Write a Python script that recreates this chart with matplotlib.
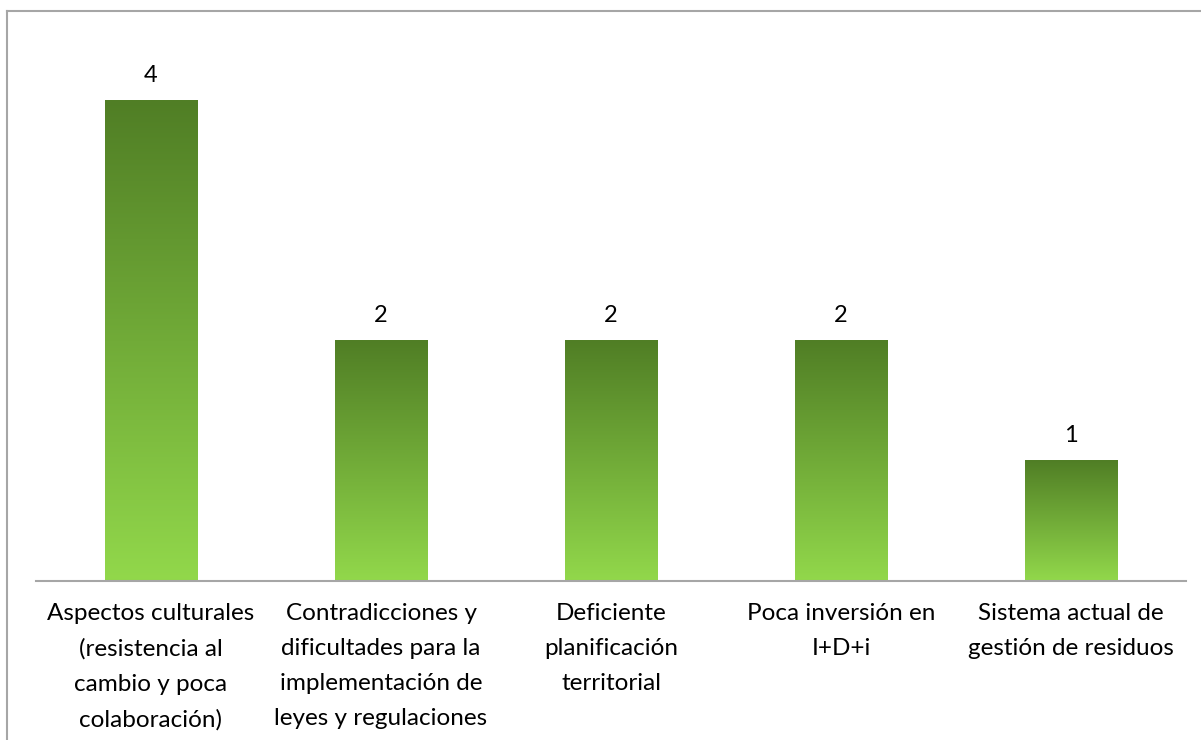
import matplotlib
matplotlib.use("Agg")
import matplotlib.pyplot as plt
import numpy as np
from matplotlib.colors import LinearSegmentedColormap
from matplotlib.lines import Line2D

categories = [
    "Aspectos culturales\n(resistencia al\ncambio y poca\ncolaboración)",
    "Contradicciones y\ndificultades para la\nimplementación de\nleyes y regulaciones",
    "Deficiente\nplanificación\nterritorial",
    "Poca inversión en\nI+D+i",
    "Sistema actual de\ngestión de residuos",
]
values = [4, 2, 2, 2, 1]

plt.rcParams['font.family'] = ['Lato', 'DejaVu Sans']

W, H = 1201, 740
fig = plt.figure(figsize=(W / 100, H / 100), dpi=100)
ax = fig.add_axes([36 / W, 1 - 581 / H, 1150 / W, (581 - 40) / H])

cmap = LinearSegmentedColormap.from_list("g", ["#92D84B", "#507E25"])
grad = np.linspace(0, 1, 256).reshape(-1, 1)
bw = 0.404
x = np.arange(len(categories))
for xi, v in zip(x, values):
    ax.imshow(grad, extent=[xi - bw / 2, xi + bw / 2, 0, v], origin="lower",
              cmap=cmap, aspect="auto", zorder=2)
    ax.text(xi, v + 0.12, str(v), ha="center", va="bottom", fontsize=17, color="#000000")

ax.set_xlim(-0.5, len(categories) - 0.5)
ax.set_ylim(0, 4.5)
ax.set_yticks([])
ax.set_xticks(x)
ax.set_xticklabels(categories, fontsize=17.5, linespacing=1.81)
ax.tick_params(axis="x", length=0, pad=16)
for s in ["top", "right", "left"]:
    ax.spines[s].set_visible(False)
ax.spines["bottom"].set_color("#A6A6A6")
ax.spines["bottom"].set_linewidth(1.5)
ax.spines["bottom"].set_zorder(3)

# chart area border (left and top visible)
fig.add_artist(Line2D([6.5 / W, 6.5 / W], [0, 1 - 10.5 / H], transform=fig.transFigure,
                      color="#A6A6A6", lw=1.5))
fig.add_artist(Line2D([6.5 / W, 1], [1 - 10.5 / H, 1 - 10.5 / H], transform=fig.transFigure,
                      color="#A6A6A6", lw=1.5))

fig.savefig("out.png", dpi=100)
